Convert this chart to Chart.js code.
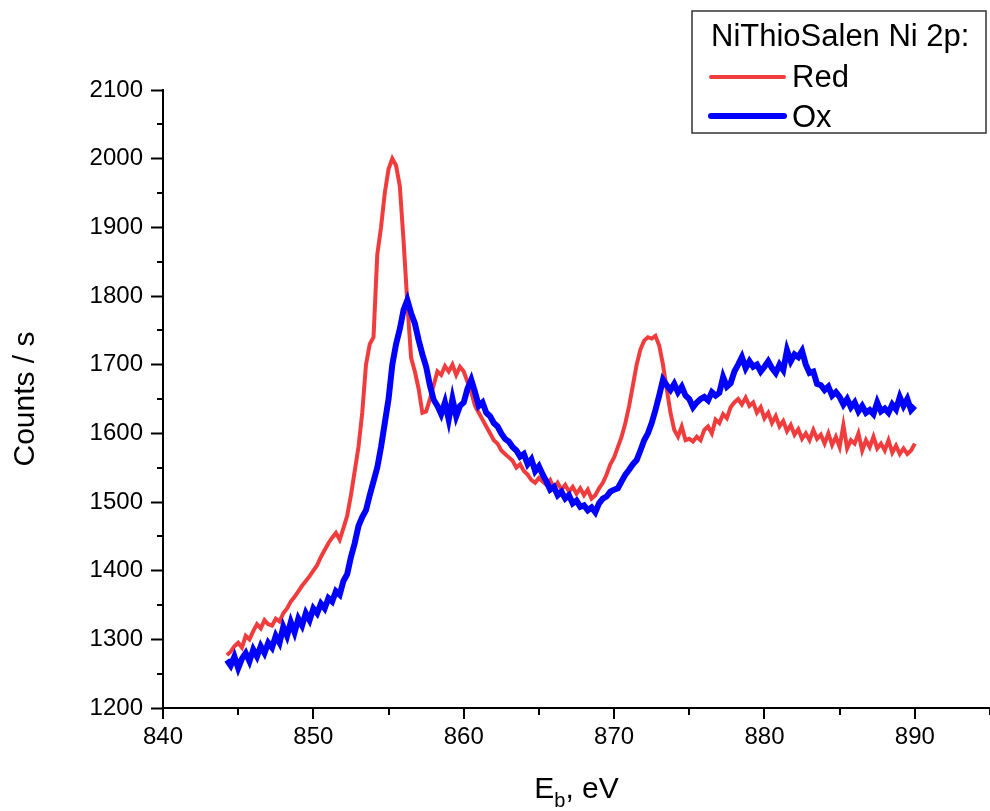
<!DOCTYPE html>
<html>
<head>
<meta charset="utf-8">
<script src="https://cdn.jsdelivr.net/npm/chart.js@4.4.1/dist/chart.umd.min.js"></script>
<style>
html,body{margin:0;padding:0;background:#fff;}
#wrap{width:990px;height:811px;position:relative;}
</style>
</head>
<body>
<div id="wrap"><canvas id="c" width="990" height="811"></canvas></div>
<script>
// ---- data ----
const energyStart = 844.25;   // eV, first sample
const energyStep = 0.25;      // eV between samples

const redCounts = [
  1277,1282,1290,1295,1288,1305,1300,1312,
  1322,1316,1328,1322,1320,1330,1326,1338,
  1345,1355,1362,1370,1378,1385,1392,1400,
  1408,1420,1430,1440,1448,1455,1445,1462,
  1480,1510,1545,1580,1630,1700,1730,1740,
  1860,1900,1950,1985,2000,1990,1960,1880,
  1790,1710,1690,1665,1630,1632,1650,1670,
  1690,1685,1698,1690,1700,1685,1697,1690,
  1675,1660,1640,1630,1620,1610,1600,1590,
  1585,1575,1570,1565,1560,1550,1555,1545,
  1540,1532,1528,1535,1530,1525,1532,1520,
  1528,1518,1525,1515,1522,1512,1520,1510,
  1518,1505,1510,1520,1528,1540,1555,1565,
  1580,1595,1615,1640,1670,1700,1722,1735,
  1740,1738,1742,1728,1700,1665,1630,1605,
  1595,1610,1590,1592,1588,1595,1590,1605,
  1610,1600,1620,1615,1628,1622,1638,1645,
  1650,1642,1652,1640,1645,1630,1638,1622,
  1630,1615,1625,1610,1618,1603,1612,1598,
  1606,1592,1600,1590,1605,1592,1598,1585,
  1600,1583,1595,1580,1612,1578,1590,1585,
  1600,1575,1590,1580,1595,1578,1585,1575,
  1590,1572,1582,1570,1578,1570,1575,1585
];

const oxCounts = [
  1270,1262,1275,1258,1272,1280,1268,1285,
  1275,1290,1280,1295,1288,1305,1295,1318,
  1305,1325,1310,1330,1320,1338,1328,1345,
  1338,1352,1345,1360,1355,1370,1365,1385,
  1395,1420,1440,1465,1478,1488,1510,1530,
  1550,1580,1615,1650,1700,1730,1752,1780,
  1794,1775,1760,1736,1715,1697,1670,1649,
  1640,1628,1645,1620,1650,1625,1640,1645,
  1665,1678,1660,1640,1645,1630,1625,1615,
  1610,1600,1592,1588,1580,1575,1566,1570,
  1555,1562,1545,1552,1540,1530,1518,1522,
  1510,1515,1505,1510,1498,1502,1493,1495,
  1488,1492,1485,1498,1505,1508,1515,1518,
  1520,1530,1540,1547,1555,1561,1575,1590,
  1600,1615,1634,1655,1678,1670,1663,1672,
  1660,1668,1655,1650,1638,1645,1650,1653,
  1648,1660,1655,1659,1682,1668,1673,1690,
  1700,1711,1695,1705,1697,1700,1690,1697,
  1705,1695,1688,1700,1692,1721,1705,1715,
  1711,1720,1700,1688,1690,1672,1670,1663,
  1668,1655,1660,1653,1642,1650,1638,1645,
  1632,1640,1630,1634,1628,1645,1632,1636,
  1630,1642,1635,1653,1640,1650,1634,1640
];

const xTickLabels = [840, 850, 860, 870, 880, 890];
const yTickLabels = [1200, 1300, 1400, 1500, 1600, 1700, 1800, 1900, 2000, 2100];
const seriesNames = ['Red', 'Ox'];
const legendTitle = 'NiThioSalen Ni 2p:';
const xTitleMain = 'E', xTitleSub = 'b', xTitleRest = ', eV';
const yTitle = 'Counts / s';

// ---- build ----
const FONT = '"Liberation Sans", Arial, sans-serif';
const RED = '#f03c3c', BLUE = '#0000ff';
function toPoints(arr){ return arr.map((v,i)=>({x: energyStart + i*energyStep, y: v})); }

Chart.defaults.color = '#000';
Chart.defaults.font.family = FONT;

// x ticks (major + minor) and y minor ticks drawn from the library's scales
const axisTicks = {
  id:'axisTicks',
  afterDraw(chart){
    const ctx = chart.ctx, xs = chart.scales.x, ys = chart.scales.y, ca = chart.chartArea;
    ctx.save();
    ctx.strokeStyle = '#000'; ctx.lineWidth = 2;
    xs.ticks.forEach(t=>{
      const major = xTickLabels.includes(t.value);
      const px = Math.round(xs.getPixelForValue(t.value));
      ctx.beginPath(); ctx.moveTo(px, ca.bottom); ctx.lineTo(px, ca.bottom + (major ? 11 : 7)); ctx.stroke();
    });
    ys.ticks.forEach(t=>{
      if (yTickLabels.includes(t.value)) return;
      const py = Math.round(ys.getPixelForValue(t.value));
      ctx.beginPath(); ctx.moveTo(ca.left, py); ctx.lineTo(ca.left - 6, py); ctx.stroke();
    });
    ctx.restore();
  }
};

const xTitlePlugin = {
  id:'xTitle',
  afterDraw(chart){
    const ctx = chart.ctx, ca = chart.chartArea;
    ctx.save();
    ctx.fillStyle = '#000';
    ctx.textBaseline = 'alphabetic';
    const big = '30px ' + FONT, small = '20px ' + FONT;
    ctx.font = big; const w1 = ctx.measureText(xTitleMain).width, w3 = ctx.measureText(xTitleRest).width;
    ctx.font = small; const w2 = ctx.measureText(xTitleSub).width;
    let x = (ca.left + ca.right)/2 - (w1+w2+w3)/2;
    const base = 798;
    ctx.font = big; ctx.fillText(xTitleMain, x, base); x += w1;
    ctx.font = small; ctx.fillText(xTitleSub, x, base + 9); x += w2;
    ctx.font = big; ctx.fillText(xTitleRest, x, base);
    ctx.restore();
  }
};

const legendPlugin = {
  id:'boxLegend',
  afterDraw(chart){
    const ctx = chart.ctx;
    ctx.save();
    ctx.fillStyle = '#fff';
    ctx.fillRect(692, 11, 294, 122);
    ctx.strokeStyle = '#333'; ctx.lineWidth = 1.5;
    ctx.strokeRect(692, 11, 294, 122);
    ctx.fillStyle = '#000';
    ctx.font = '31px ' + FONT;
    ctx.textBaseline = 'alphabetic';
    ctx.fillText(legendTitle, 711, 46);
    const rows = [{y:77, base:87, ds:chart.data.datasets[0]}, {y:116, base:127, ds:chart.data.datasets[1]}];
    rows.forEach(r=>{
      ctx.strokeStyle = r.ds.borderColor; ctx.lineWidth = r.ds.borderWidth; ctx.lineCap = 'round';
      ctx.beginPath(); ctx.moveTo(711, r.y); ctx.lineTo(784, r.y); ctx.stroke();
      ctx.fillText(r.ds.label, 792, r.base);
    });
    ctx.restore();
  }
};

new Chart(document.getElementById('c'), {
  type:'line',
  data:{
    datasets:[
      {label: seriesNames[0], data: toPoints(redCounts), borderColor: RED, borderWidth: 4, pointRadius: 0, tension: 0, order: 2, fill:false},
      {label: seriesNames[1], data: toPoints(oxCounts), borderColor: BLUE, borderWidth: 6, pointRadius: 0, tension: 0, order: 1, fill:false}
    ]
  },
  options:{
    responsive:false, animation:false, devicePixelRatio:1,
    layout:{padding:{left:0, right:0, top:90, bottom:0}},
    plugins:{legend:{display:false}, tooltip:{enabled:false}},
    scales:{
      x:{
        type:'linear', min:840, max:895,
        ticks:{stepSize:5, autoSkip:false, maxRotation:0, minRotation:0, padding:0,
          font:{size:24, family:FONT}, color:'#000',
          callback:(v)=> xTickLabels.includes(v) ? String(v) : ''},
        grid:{drawOnChartArea:false, drawTicks:true, tickLength:15, tickWidth:2, tickColor:'rgba(0,0,0,0)'},
        border:{display:true, color:'#000', width:2},
        afterFit(s){ s.height = 103; }
      },
      y:{
        min:1200, max:2100,
        ticks:{stepSize:50, autoSkip:false, padding:8, font:{size:24, family:FONT}, color:'#000',
          callback:(v)=> yTickLabels.includes(v) ? String(v) : ''},
        grid:{drawOnChartArea:false, drawTicks:true, tickLength:12, tickWidth:2,
          tickColor:(c)=> (c.tick && yTickLabels.includes(c.tick.value)) ? '#000' : 'rgba(0,0,0,0)'},
        border:{display:true, color:'#000', width:2},
        title:{display:true, text:yTitle, font:{size:30, family:FONT}, color:'#000', padding:{top:8, bottom:0}},
        afterFit(s){ s.width = 163; }
      }
    }
  },
  plugins:[axisTicks, xTitlePlugin, legendPlugin]
});
</script>
</body>
</html>
